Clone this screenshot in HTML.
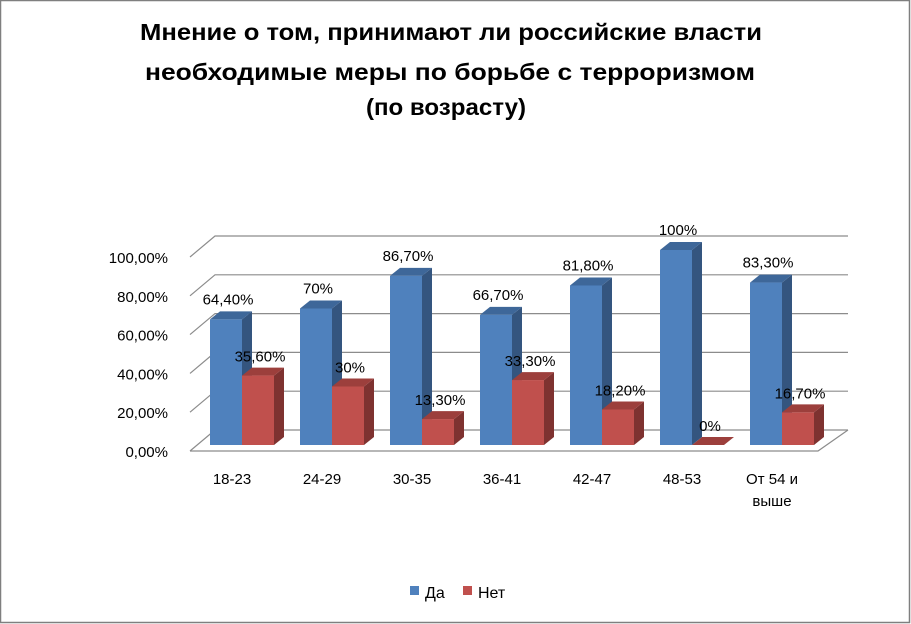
<!DOCTYPE html>
<html><head><meta charset="utf-8"><style>
html,body{margin:0;padding:0;background:#fff}
svg{display:block;font-family:"Liberation Sans","DejaVu Sans",sans-serif}
</style></head><body>
<svg id="chart" width="911" height="624" viewBox="0 0 911 624">
<rect x="0.5" y="0.5" width="909" height="622" fill="#fff" stroke="#7f7f7f" stroke-width="1.5"/>
<g font-weight="bold" font-size="23" text-anchor="middle" fill="#000">
<text x="451" y="40" textLength="622" lengthAdjust="spacingAndGlyphs">Мнение о том, принимают ли российские власти</text>
<text x="450" y="80" textLength="610" lengthAdjust="spacingAndGlyphs">необходимые меры по борьбе с терроризмом</text>
<text x="446" y="115" textLength="160" lengthAdjust="spacingAndGlyphs">(по возрасту)</text>
</g>
<g id="grid"></g>
<g id="ylab"></g>
<g id="bars"></g>
<g id="xlab"></g>
<g font-size="16" fill="#000">
<rect x="410" y="586" width="9" height="9" fill="#4f81bd"/>
<text x="425" y="598">Да</text>
<rect x="463" y="586" width="9" height="9" fill="#c0504d"/>
<text x="478" y="598">Нет</text>
</g>
</svg>
<script>
const categories = ["18-23","24-29","30-35","36-41","42-47","48-53","От 54 и|выше"];
const yesValues = [64.4,70,86.7,66.7,81.8,100,83.3];
const noValues = [35.6,30,13.3,33.3,18.2,0,16.7];
const yesLabels = ["64,40%","70%","86,70%","66,70%","81,80%","100%","83,30%"];
const noLabels = ["35,60%","30%","13,30%","33,30%","18,20%","0%","16,70%"];
const yTicks = [0,20,40,60,80,100];
const yTickLabels = ["0,00%","20,00%","40,00%","60,00%","80,00%","100,00%"];

const NS="http://www.w3.org/2000/svg";
function mk(tag,attrs,parent){const e=document.createElementNS(NS,tag);for(const k in attrs)e.setAttribute(k,attrs[k]);parent.appendChild(e);return e;}
// axes
const backY = v => 430 - v*1.94;   // back wall
const frontY = v => 445 - v*1.95;  // bar front face
const groupX = i => 242 + i*90;
const bw = 32, dx = 10, dy = 8;

const grid=document.getElementById('grid');
yTicks.forEach((t,i)=>{
  const y=backY(t);
  const l=mk('polyline',{points:`190,${y+21} 215,${y} 848,${y}`,fill:'none',stroke:'#8c8c8c','stroke-width':1.2},grid);
  
  
});
const fl=mk('polyline',{points:`190,451 818,451 848,430`,fill:'none',stroke:'#8c8c8c','stroke-width':1.2},grid);



const ylab=document.getElementById('ylab');
yTicks.forEach((t,i)=>{
  const tx=mk('text',{x:168,y:backY(t)+27,'text-anchor':'end','font-size':15,fill:'#000'},ylab);
  tx.textContent=yTickLabels[i];
  
  
});

const bars=document.getElementById('bars');
function bar(x,v,cFront,cTop,cSide,name){
  const g=mk('g',{},bars);
  
  
  const yb=445, yt=frontY(v);
  mk('polygon',{points:`${x+bw},${yt} ${x+bw+dx},${yt-dy} ${x+bw+dx},${yb-dy} ${x+bw},${yb}`,fill:cSide},g);
  mk('polygon',{points:`${x},${yt} ${x+dx},${yt-dy} ${x+bw+dx},${yt-dy} ${x+bw},${yt}`,fill:cTop},g);
  if(v>0) mk('rect',{x:x,y:yt,width:bw,height:yb-yt,fill:cFront},g);
}
categories.forEach((c,i)=>{
  const cx=groupX(i);
  bar(cx-bw,yesValues[i],'#4f81bd','#3e6799','#34557f','bar-yes-'+i);
  bar(cx,noValues[i],'#c0504d','#9c3f3c','#7e3230','bar-no-'+i);
});
categories.forEach((c,i)=>{
  const cx=groupX(i);
  const t1=mk('text',{x:cx-bw/2+2,y:frontY(yesValues[i])-15,'text-anchor':'middle','font-size':15,fill:'#000'},bars);
  t1.textContent=yesLabels[i];
  
  
  const t2=mk('text',{x:cx+bw/2+2,y:frontY(noValues[i])-14,'text-anchor':'middle','font-size':15,fill:'#000'},bars);
  t2.textContent=noLabels[i];
  
  
});

const xlab=document.getElementById('xlab');
categories.forEach((c,i)=>{
  c.split('|').forEach((part,j)=>{
    const t=mk('text',{x:groupX(i)-10,y:484+j*22,'text-anchor':'middle','font-size':15,fill:'#000'},xlab);
    t.textContent=part;
    
    
  });
});
</script>
</body></html>
